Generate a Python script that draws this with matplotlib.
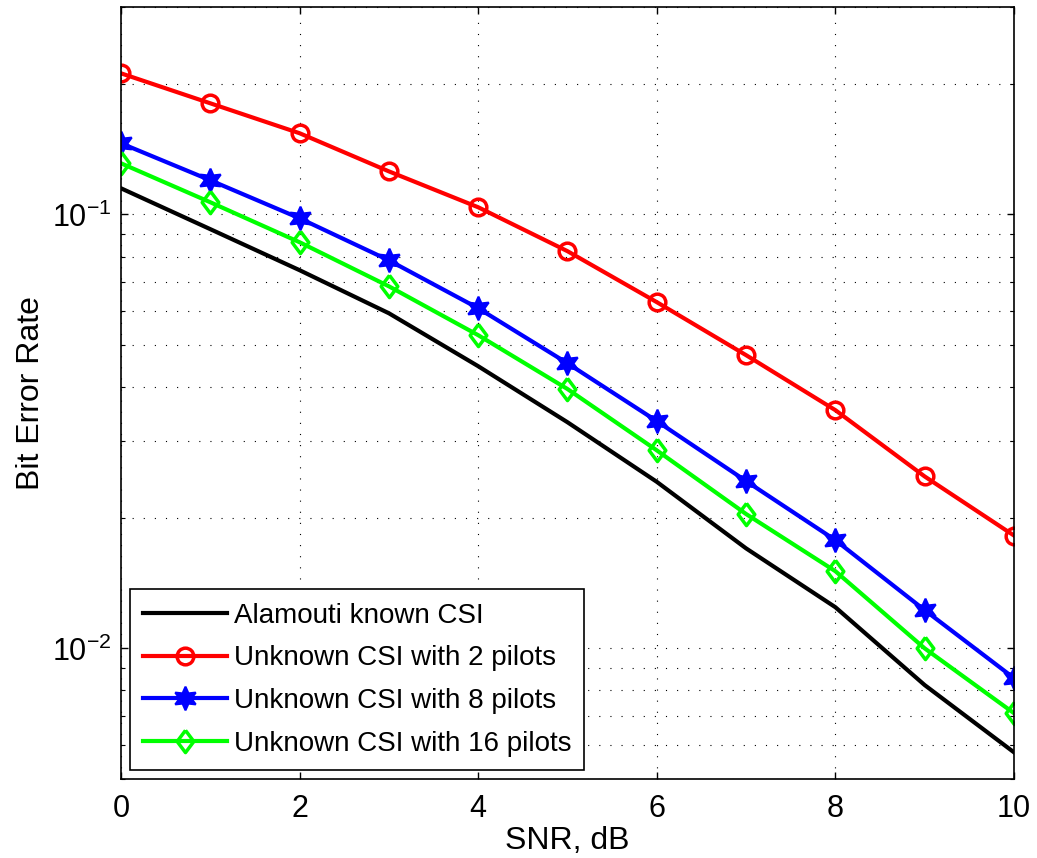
import matplotlib
matplotlib.use('Agg')
import matplotlib.pyplot as plt
from matplotlib.ticker import LogLocator, NullFormatter

plt.rcParams['font.family'] = ['Liberation Sans', 'DejaVu Sans']
plt.rcParams['mathtext.fontset'] = 'custom'
plt.rcParams['mathtext.rm'] = 'Liberation Sans'
plt.rcParams['mathtext.it'] = 'Liberation Sans:italic'

snr = [0, 1, 2, 3, 4, 5, 6, 7, 8, 9, 10]
ber_known = [0.1149, 0.0925, 0.0744, 0.0592, 0.0447, 0.0332, 0.0242, 0.0170, 0.01244, 0.00823, 0.00576]
ber_2p = [0.2115, 0.1804, 0.1539, 0.1257, 0.1039, 0.0823, 0.0628, 0.0474, 0.0354, 0.0249, 0.0182]
ber_8p = [0.1459, 0.1199, 0.0980, 0.0784, 0.0608, 0.0454, 0.0334, 0.0243, 0.01776, 0.01225, 0.00854]
ber_16p = [0.1312, 0.1067, 0.0863, 0.0683, 0.0527, 0.0396, 0.0286, 0.0204, 0.01506, 0.0100, 0.00709]

labels = ['Alamouti known CSI', 'Unknown CSI with 2 pilots',
          'Unknown CSI with 8 pilots', 'Unknown CSI with 16 pilots']

fig = plt.figure(figsize=(10.37, 8.58), dpi=100)
ax = fig.add_axes([0.1167, 0.0921, 0.8611, 0.8992])

hexagram = (6, 1, 0)
diamond = [(0, 1), (0.75, 0), (0, -1), (-0.75, 0), (0, 1)]

ax.semilogy(snr, ber_known, color='k', lw=3, label=labels[0])
ax.semilogy(snr, ber_2p, color='#ff0000', lw=3, marker='o', ms=12,
            mfc='none', mew=2.5, label=labels[1])
ax.semilogy(snr, ber_8p, color='#0000ff', lw=3, marker=hexagram, ms=17,
            mfc='#0000ff', mew=1.5, label=labels[2])
ax.semilogy(snr, ber_16p, color='#00ff00', lw=3, marker=diamond, ms=16,
            mfc='none', mew=2.5, label=labels[3])

ax.set_xlim(0, 10)
ax.set_ylim(0.005, 0.3)
ax.set_xticks([0, 2, 4, 6, 8, 10])
ax.yaxis.set_major_locator(LogLocator(base=10))
ax.yaxis.set_minor_locator(LogLocator(base=10, subs=range(2, 10)))
ax.yaxis.set_minor_formatter(NullFormatter())

ax.tick_params(which='both', direction='in', top=True, right=True, labelsize=22)
ax.tick_params(which='major', length=5, width=1)
ax.tick_params(which='minor', length=3, width=0.8)
ax.tick_params(axis='x', which='major', pad=11)
ax.tick_params(axis='y', which='major', pad=7)

ax.grid(True, which='major', axis='x', color='k', lw=0.8, ls=(0, (1, 9)))
ax.grid(True, which='both', axis='y', color='k', lw=0.8, ls=(0, (1, 9)))
for s in ax.spines.values():
    s.set_linewidth(1.2)

ax.set_xlabel('SNR, dB', fontsize=23, labelpad=1)
ax.set_ylabel('Bit Error Rate', fontsize=23, labelpad=4)

leg = ax.legend(loc='lower left', bbox_to_anchor=(0.010, 0.0117), borderaxespad=0,
                fontsize=20, handlelength=3.0, handletextpad=0.25, labelspacing=0.6,
                borderpad=0.48, fancybox=False, framealpha=1, edgecolor='k')
leg.get_frame().set_linewidth(1.2)

fig.savefig('out.png', dpi=100)
